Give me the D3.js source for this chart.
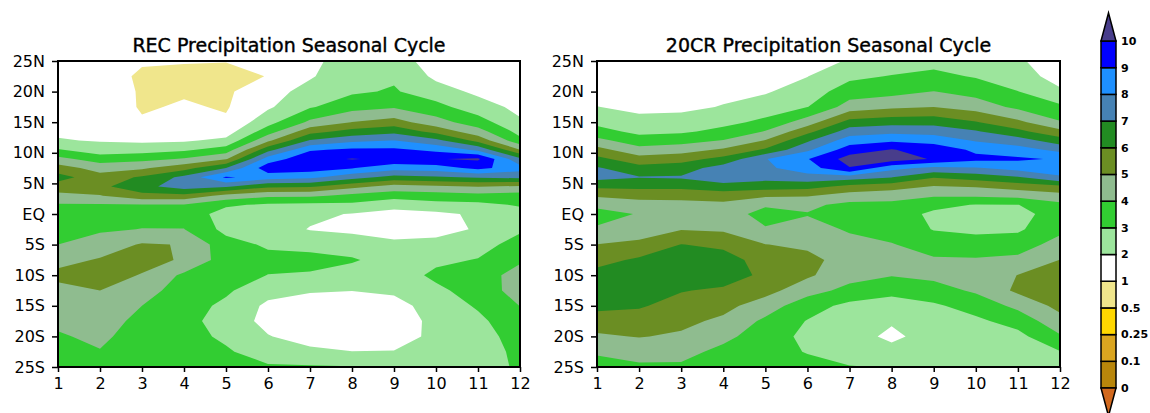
<!DOCTYPE html>
<html>
<head>
<meta charset="utf-8">
<script src="https://cdn.jsdelivr.net/npm/d3@7"></script>
<style>
body { margin: 0; background: #fff; }
svg { display: block; font-family: "DejaVu Sans", sans-serif; }
</style>
</head>
<body>
<svg id="chart" width="1150" height="413"></svg>
<script>
// grid axes: months along x, latitude rows (north to south, finer in the rain belt)
var months = [1, 2, 3, 4, 5, 6, 7, 8, 9, 10, 11, 12];
var lats = [25, 22.5, 20, 17.5, 15, 13.5, 12, 10.5, 9, 7.5, 6, 4.5, 3, 1.5, 0,
            -2.5, -5, -7.5, -10, -12.5, -15, -17.5, -20, -22.5, -25];

var yTicks = [25, 20, 15, 10, 5, 0, -5, -10, -15, -20, -25];
var yTickLabels = ["25N", "20N", "15N", "10N", "5N", "EQ", "5S", "10S", "15S", "20S", "25S"];

// shading levels and colours (first colour = below 0, last = above 10)
var levels = [0, 0.1, 0.25, 0.5, 1, 2, 3, 4, 5, 6, 7, 8, 9, 10];
var bandColors = ["#d2691e", "#b8860b", "#daa520", "#ffd700", "#f0e68c", "#ffffff", "#9ce59c",
                  "#32cd32", "#8fbc8f", "#6b8e23", "#228b22", "#4682b4", "#1e90ff", "#0000ff", "#483d8b"];

// precipitation (mm/day), one list per month, values at the lats above
var recPrecip = [
  [1.3,1.4,1.5,1.6,1.75,1.85,2.07,3.08,4.29,5.45,6.4,5.55,4.73,3.9,3.7,3.85,4.0,4.65,5.3,4.65,4.45,4.2,3.9,3.7,3.6],
  [1.35,1.45,1.55,1.65,1.75,1.85,1.93,2.43,3.54,4.6,5.38,5.75,4.95,3.9,3.6,3.88,4.4,5.1,5.35,5.0,4.6,4.4,4.2,3.95,3.75],
  [1.1,0.85,0.9,0.9,1.1,1.45,1.82,2.57,3.69,4.85,6.15,6.7,5.67,3.95,3.75,4.02,5.1,5.3,4.95,4.45,4.0,3.75,3.55,3.45,3.4],
  [1.05,0.8,0.9,1.1,1.3,1.5,1.88,2.83,4.09,5.63,7.26,7.48,5.71,3.95,3.6,4.02,4.95,4.9,3.8,3.5,3.4,3.3,3.3,3.3,3.4],
  [1.02,0.8,0.85,0.92,1.12,1.55,2.23,3.45,4.9,7.0,9.15,7.14,4.67,3.15,2.6,2.7,3.4,3.5,3.45,3.15,2.8,2.6,2.85,3.1,3.2],
  [1.05,1.02,1.6,1.85,2.65,3.52,4.79,6.63,8.47,9.6,8.5,6.2,4.22,2.85,2.6,2.5,2.85,3.3,2.98,2.35,1.8,1.7,2.05,2.6,3.1],
  [1.8,1.9,2.35,2.9,4.2,5.64,7.1,8.88,9.7,9.5,8.25,6.14,4.19,2.75,2.2,1.95,2.7,3.3,2.9,2.1,1.5,1.3,1.6,2.2,3.1],
  [2.4,2.65,2.85,3.64,5.02,6.33,7.76,9.18,10.05,9.05,7.38,5.33,3.73,2.8,1.95,1.8,2.5,3.1,2.6,2.02,1.4,1.2,1.4,2.02,3.05],
  [2.3,2.85,3.1,3.9,5.42,6.7,8.02,9.2,9.8,8.38,6.67,4.63,3.41,2.3,1.7,1.6,2.2,2.6,2.5,2.2,1.6,1.3,1.45,2.05,2.98],
  [1.7,1.8,2.42,3.33,4.4,5.65,7.29,8.75,9.95,8.5,6.87,4.82,3.53,2.65,1.8,1.65,2.3,2.8,3.2,2.8,2.5,2.35,2.3,2.4,3.02],
  [1.4,1.55,1.8,2.43,3.47,4.41,5.68,7.77,10.15,9.3,7.11,5.05,3.66,2.75,2.15,2.1,2.6,3.05,3.5,3.4,3.1,2.8,2.6,2.6,2.7],
  [1.3,1.45,1.6,1.75,2.13,2.65,3.29,5.02,7.22,8.4,7.25,4.86,3.53,3.1,2.6,2.85,3.4,3.85,4.4,4.45,4.02,3.6,3.4,3.2,3.1]
];

var crPrecip = [
  [1.2,1.35,1.55,2.02,2.75,3.35,4.29,5.33,6.28,7.1,7.35,6.2,5.14,4.2,3.7,4.1,5.02,5.7,6.3,6.6,6.25,5.55,4.85,4.1,3.7],
  [1.3,1.45,1.6,1.8,2.25,2.75,3.44,4.35,5.4,6.35,7.05,6.27,5.31,4.6,4.05,4.35,5.3,6.15,6.6,6.6,6.1,5.6,5.05,4.35,3.85],
  [1.25,1.4,1.55,1.8,2.35,2.85,3.6,4.57,5.64,6.53,7.1,6.27,5.3,4.7,4.45,4.95,6.02,6.6,6.75,6.05,5.65,5.25,4.85,4.3,3.85],
  [1.3,1.5,1.75,2.05,2.74,3.26,4.05,5.15,6.3,7.45,7.75,6.56,5.5,4.75,4.55,4.85,5.8,6.4,6.45,5.85,5.3,4.8,4.25,3.75,3.5],
  [1.4,1.6,1.9,2.5,3.22,4.05,5.05,6.15,7.95,7.8,7.35,6.45,5.15,4.15,3.6,4.1,5.02,5.6,5.8,5.35,4.5,3.8,3.5,3.35,3.3],
  [1.5,1.98,2.48,2.98,4.52,5.69,6.85,7.81,8.95,8.55,7.62,6.36,5.08,4.2,3.95,4.35,4.8,5.3,5.15,4.4,3.4,2.95,2.75,2.95,3.3],
  [2.1,2.78,3.5,4.43,6.38,7.48,8.52,9.5,10.4,9.95,7.5,5.73,4.59,3.75,3.5,3.9,4.3,4.55,4.35,3.7,2.75,2.4,2.2,2.55,3.05],
  [2.4,3.05,3.68,4.8,6.64,7.71,8.85,10.05,10.55,8.3,7.02,5.42,4.41,3.75,3.5,3.65,4.05,4.35,4.05,3.25,2.6,2.05,1.9,2.15,2.95],
  [2.7,3.24,4.02,4.98,6.67,7.58,8.63,9.6,9.9,7.75,6.05,4.94,4.1,3.3,2.8,2.95,3.6,4.1,4.25,3.6,2.85,2.4,2.2,2.3,2.45],
  [2.3,2.92,3.61,4.58,6.07,7.1,7.9,8.81,9.25,7.91,6.44,5.08,4.13,2.95,2.6,2.8,3.4,4.1,4.4,4.15,3.4,2.8,2.5,2.4,2.4],
  [2.15,2.4,3.02,3.76,5.25,6.25,7.46,8.42,9.15,8.38,6.9,5.45,4.29,2.98,2.65,2.85,3.5,4.25,5.02,5.2,4.25,3.4,2.7,2.6,2.6],
  [1.4,1.65,2.14,3.2,4.08,5.29,6.45,7.72,8.9,8.5,7.88,5.81,4.61,3.75,3.5,3.75,4.4,5.02,5.5,5.6,5.3,4.65,3.9,2.95,2.7]
];

var svg = d3.select("#chart");
var plotTop = 61, plotBottom = 367;

var panels = [
  {title: "REC Precipitation Seasonal Cycle", data: recPrecip, left: 58, right: 520},
  {title: "20CR Precipitation Seasonal Cycle", data: crPrecip, left: 597, right: 1060}
];

// grid row index -> latitude (rows are not evenly spaced)
var rowLat = d3.scaleLinear().domain(d3.range(lats.length)).range(lats);

panels.forEach(function(p, n) {
  var x = d3.scaleLinear().domain([1, 12]).range([p.left, p.right]);
  var y = d3.scaleLinear().domain([-25, 25]).range([plotBottom, plotTop]);
  var g = svg.append("g");

  g.append("clipPath").attr("id", "clip" + n)
    .append("rect")
    .attr("x", p.left).attr("y", plotTop)
    .attr("width", p.right - p.left).attr("height", plotBottom - plotTop);

  // flatten to row-major grid for d3.contours
  var values = [];
  lats.forEach(function(lat, j) {
    months.forEach(function(m, i) { values.push(p.data[i][j]); });
  });

  var contours = d3.contours()
    .size([months.length, lats.length])
    .thresholds(levels)(values);

  // contour grid coords: sample i sits at i + 0.5
  var path = d3.geoPath(d3.geoTransform({
    point: function(gx, gy) { this.stream.point(x(gx + 0.5), y(rowLat(gy - 0.5))); }
  }));

  g.append("g")
    .attr("clip-path", "url(#clip" + n + ")")
    .selectAll("path")
    .data(contours)
    .enter().append("path")
    .attr("d", path)
    .attr("fill", function(d) { return bandColors[levels.indexOf(d.value) + 1]; });

  // frame
  g.append("rect")
    .attr("x", p.left).attr("y", plotTop)
    .attr("width", p.right - p.left).attr("height", plotBottom - plotTop)
    .attr("fill", "none").attr("stroke", "#000").attr("stroke-width", 2);

  var yAxis = d3.axisLeft(y)
    .tickValues(yTicks)
    .tickFormat(function(d, i) { return yTickLabels[i]; })
    .tickSize(6).tickSizeOuter(0).tickPadding(7);

  var xAxis = d3.axisBottom(x)
    .tickValues(months)
    .tickFormat(d3.format("d"))
    .tickSize(5).tickSizeOuter(0).tickPadding(6);

  g.append("g")
    .attr("transform", "translate(" + p.left + ",0)")
    .call(yAxis)
    .call(function(a) { a.select(".domain").remove(); });

  g.append("g")
    .attr("transform", "translate(0," + plotBottom + ")")
    .call(xAxis)
    .call(function(a) { a.select(".domain").remove(); });

  g.selectAll(".tick line").attr("stroke", "#000").attr("stroke-width", 1.5);
  g.selectAll(".tick text")
    .attr("font-size", 16)
    .attr("font-family", "DejaVu Sans, sans-serif")
    .attr("fill", "#000");

  g.append("text")
    .attr("x", (p.left + p.right) / 2)
    .attr("y", 52)
    .attr("text-anchor", "middle")
    .attr("font-size", 19)
    .attr("stroke", "#000")
    .attr("stroke-width", 0.4)
    .text(p.title);
});

// colour bar
var barY = d3.scaleLinear().domain([0, levels.length - 1]).range([388, 41]);
var barX0 = 1101, barX1 = 1116, barMid = (barX0 + barX1) / 2;
var bar = svg.append("g");

bar.selectAll("rect")
  .data(d3.range(levels.length - 1))
  .enter().append("rect")
  .attr("x", barX0)
  .attr("y", function(k) { return barY(k + 1); })
  .attr("width", barX1 - barX0)
  .attr("height", function(k) { return barY(k) - barY(k + 1); })
  .attr("fill", function(k) { return bandColors[k + 1]; })
  .attr("stroke", "#000")
  .attr("stroke-width", 1.5);

var topY = barY(levels.length - 1), botY = barY(0);
bar.append("path")
  .attr("d", "M" + barX0 + "," + topY + "L" + barMid + "," + (topY - 28) + "L" + barX1 + "," + topY + "Z")
  .attr("fill", bandColors[bandColors.length - 1])
  .attr("stroke", "#000").attr("stroke-width", 1.5);
bar.append("path")
  .attr("d", "M" + barX0 + "," + botY + "L" + barMid + "," + (botY + 28) + "L" + barX1 + "," + botY + "Z")
  .attr("fill", bandColors[0])
  .attr("stroke", "#000").attr("stroke-width", 1.5);

bar.selectAll("text")
  .data(levels)
  .enter().append("text")
  .attr("x", barX1 + 5)
  .attr("y", function(d, k) { return barY(k); })
  .attr("dy", "0.35em")
  .attr("font-size", 11)
  .attr("font-weight", "bold")
  .text(function(d) { return d; });
</script>
</body>
</html>
